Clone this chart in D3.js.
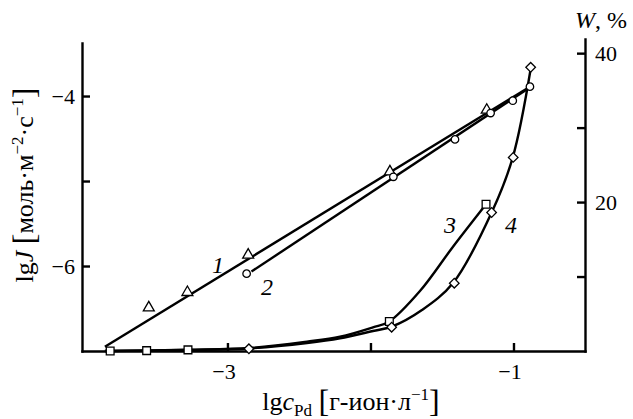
<!DOCTYPE html>
<html>
<head>
<meta charset="utf-8">
<script src="https://cdn.jsdelivr.net/npm/d3@7"></script>
<style>
  body { margin: 0; background: #fff; }
  svg { display: block; }
  text { font-family: "Liberation Serif", "DejaVu Serif", serif; fill: #000; }
</style>
</head>
<body>
<div id="chart"></div>
<script>
// DATA

// curve 1 (triangles) and curve 2 (circles): lg J against lg c(Pd)
var x1 = [-3.55, -3.28, -2.855, -1.864, -1.187];
var lgJ1 = [-6.49, -6.31, -5.87, -4.89, -4.165];
var x2 = [-2.866, -1.84, -1.409, -1.16, -1.005, -0.885];
var lgJ2 = [-6.09, -4.95, -4.51, -4.20, -4.055, -3.89];

// straight fits drawn for curves 1 and 2 (end points)
var fit1X = [-3.857, -0.885];
var fit1Y = [-6.95, -3.89];
var fit2X = [-2.832, -0.878];
var fit2Y = [-6.065, -3.89];

// curve 3 (squares) and curve 4 (diamonds): W, % (right axis)
var x3 = [-3.82, -3.565, -3.276, -1.868, -1.192];
var w3 = [0, 0.05, 0.15, 3.95, 19.7];
var x4 = [-2.85, -1.852, -1.414, -1.153, -1.002, -0.88];
var w4 = [0.3, 3.2, 9.1, 18.6, 26.0, 38.1];

// smooth curves 3 and 4
var curve3X = [-3.857, -3.276, -2.843, -2.444, -2.213, -1.983, -1.871, -1.654, -1.423, -1.192];
var curve3W = [0, 0.17, 0.4, 1.25, 1.92, 3.18, 3.93, 8.05, 14.0, 19.7];
var curve4X = [-3.857, -3.276, -2.85, -2.444, -2.213, -1.983, -1.852, -1.64, -1.421, -1.148, -1.005, -0.878];
var curve4W = [0, 0.13, 0.34, 1.07, 1.7, 2.68, 3.26, 5.5, 9.17, 18.8, 26.0, 38.1];

// ticks
var xTicks = [-3, -2, -1];
var xTickLabels = [-3, -1];
var yTicks = [-4, -5, -6];
var yTickLabels = [-4, -6];
var wTicks = [10, 20, 30, 40];
var wTickLabels = [20, 40];

// curve numbers
var curveNames = ['1', '2', '3', '4'];

// LAYOUT
var width = 633, height = 419;
var lineW = 2.4;

var svg = d3.select('#chart')
  .append('svg')
    .attr('width', width)
    .attr('height', height);

var x = d3.scaleLinear().domain([-4.017, -0.5]).range([82, 585]);
var yL = d3.scaleLinear().domain([-7, -3.376]).range([351, 43]);
var yR = d3.scaleLinear().domain([0, 41.9]).range([351, 39]);

var fmt = d3.format('d');

// AXES
var gx = svg.append('g')
    .attr('transform', 'translate(0,351)')
    .call(d3.axisBottom(x)
      .tickValues(xTicks)
      .tickSizeInner(-8)
      .tickSizeOuter(0)
      .tickPadding(12)
      .tickFormat(function(d) { return xTickLabels.indexOf(d) >= 0 ? fmt(d) : ''; }));

var gy = svg.append('g')
    .attr('transform', 'translate(82,0)')
    .call(d3.axisLeft(yL)
      .tickValues(yTicks)
      .tickSizeInner(-8)
      .tickSizeOuter(0)
      .tickPadding(7)
      .tickFormat(function(d) { return yTickLabels.indexOf(d) >= 0 ? fmt(d) : ''; }));

var gw = svg.append('g')
    .attr('transform', 'translate(585,0)')
    .call(d3.axisRight(yR)
      .tickValues(wTicks)
      .tickSizeInner(-8)
      .tickSizeOuter(0)
      .tickPadding(10)
      .tickFormat(function(d) { return wTickLabels.indexOf(d) >= 0 ? fmt(d) : ''; }));

[gx, gy, gw].forEach(function(g) {
  g.select('.domain')
      .attr('stroke', '#000')
      .attr('stroke-width', lineW)
      .attr('stroke-linecap', 'square');
  g.selectAll('.tick line')
      .attr('stroke', '#000')
      .attr('stroke-width', lineW);
  g.selectAll('.tick text')
      .attr('font-family', '"Liberation Serif", serif')
      .attr('font-size', 22)
      .attr('fill', '#000');
});
gx.selectAll('.tick text').attr('dx', -4);

// LINES
var lineL = d3.line()
    .x(function(d) { return x(d[0]); })
    .y(function(d) { return yL(d[1]); });
var lineR = d3.line()
    .x(function(d) { return x(d[0]); })
    .y(function(d) { return yR(d[1]); })
    .curve(d3.curveCatmullRom.alpha(0.5));

function pairs(a, b) { return a.map(function(v, i) { return [v, b[i]]; }); }

var lines = svg.append('g')
    .attr('fill', 'none')
    .attr('stroke', '#000')
    .attr('stroke-width', lineW)
    .attr('stroke-linejoin', 'round');

lines.append('path').attr('d', lineL(pairs(fit1X, fit1Y)));
lines.append('path').attr('d', lineL(pairs(fit2X, fit2Y)));
lines.append('path').attr('d', lineR(pairs(curve3X, curve3W)));
lines.append('path').attr('d', lineR(pairs(curve4X, curve4W)));

// MARKERS
var markStroke = 1.3;
function drawMarks(xs, ys, yScale, type, size, rotate) {
  svg.append('g').selectAll('path')
    .data(pairs(xs, ys))
    .enter()
    .append('path')
      .attr('d', d3.symbol().type(type).size(size))
      .attr('transform', function(d) {
        return 'translate(' + x(d[0]) + ',' + yScale(d[1]) + ')' + (rotate ? ' rotate(45)' : '');
      })
      .attr('fill', '#fff')
      .attr('stroke', '#000')
      .attr('stroke-width', markStroke);
}

drawMarks(x3, w3, yR, d3.symbolSquare, 60, false);
drawMarks(x4, w4, yR, d3.symbolSquare, 46, true);
drawMarks(x1, lgJ1, yL, d3.symbolTriangle, 52, false);
drawMarks(x2, lgJ2, yL, d3.symbolCircle, 44, false);

// CURVE NUMBERS
var numPos = [[218, 265], [267, 287], [450, 225], [511, 225]];
svg.append('g').selectAll('text')
  .data(curveNames)
  .enter()
  .append('text')
    .attr('x', function(d, i) { return numPos[i][0]; })
    .attr('y', function(d, i) { return numPos[i][1]; })
    .attr('dy', '0.35em')
    .attr('text-anchor', 'middle')
    .attr('font-style', 'italic')
    .attr('font-size', 24)
    .text(function(d) { return d; });

// AXIS TITLES
var xt = svg.append('text')
    .attr('x', 351)
    .attr('y', 410)
    .attr('text-anchor', 'middle')
    .attr('font-size', 26);
xt.append('tspan').text('lg');
xt.append('tspan').attr('font-style', 'italic').text('c');
xt.append('tspan').attr('font-size', 17).attr('dy', 6).text('Pd');
xt.append('tspan').attr('dy', -6).text(' ');
xt.append('tspan').attr('font-size', 32).attr('dy', 2).text('[');
xt.append('tspan').attr('dy', -2).text('г-ион·л');
xt.append('tspan').attr('font-size', 17).attr('dy', -10).text('−1');
xt.append('tspan').attr('font-size', 32).attr('dy', 12).text(']');

var yt = svg.append('text')
    .attr('transform', 'translate(33,185) rotate(-90)')
    .attr('text-anchor', 'middle')
    .attr('font-size', 26);
yt.append('tspan').text('lg');
yt.append('tspan').attr('font-style', 'italic').text('J');
yt.append('tspan').text('  ');
yt.append('tspan').attr('font-size', 32).attr('dy', 2).text('[');
yt.append('tspan').attr('dy', -2).text('моль·м');
yt.append('tspan').attr('font-size', 17).attr('dy', -10).text('−2');
yt.append('tspan').attr('dy', 10).text('·с');
yt.append('tspan').attr('font-size', 17).attr('dy', -10).text('−1');
yt.append('tspan').attr('font-size', 32).attr('dy', 12).text(']');

var wt = svg.append('text')
    .attr('x', 575)
    .attr('y', 28)
    .attr('font-size', 24);
wt.append('tspan').attr('font-style', 'italic').text('W');
wt.append('tspan').text(', %');
</script>
</body>
</html>
